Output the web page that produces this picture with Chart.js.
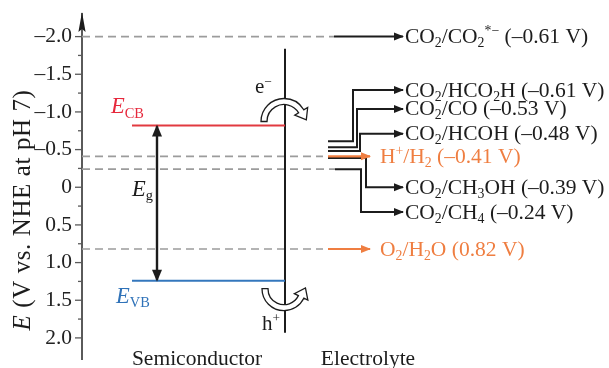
<!DOCTYPE html>
<html>
<head>
<meta charset="utf-8">
<script src="https://cdn.jsdelivr.net/npm/chart.js@4/dist/chart.umd.min.js"></script>
<style>
  html, body { margin: 0; padding: 0; background: #fff; }
  canvas { display: block; }
</style>
</head>
<body>
<canvas id="diagram" width="609" height="368"></canvas>
<script>
// ---- Data -------------------------------------------------------------
// Redox couples on the electrolyte side and their potentials (V vs. NHE, pH 7)
const couples = ['CO2/CO2*−', 'CO2/HCO2H', 'CO2/CO', 'CO2/HCOH', 'H+/H2', 'CO2/CH3OH', 'CO2/CH4', 'O2/H2O'];
const potentials = [-0.61, -0.61, -0.53, -0.48, -0.41, -0.39, -0.24, 0.82];
// Dashed guide levels running across the semiconductor
const guideLevels = [-2.0, -0.41, -0.24, 0.82];
// Semiconductor band edges (V)
const conductionBand = -0.82;
const valenceBand = 1.24;
// Axis ticks
const majorTicks = [-2.0, -1.5, -1.0, -0.5, 0, 0.5, 1.0, 1.5, 2.0];
const minorTicks = [-1.75, -1.25, -0.75, -0.25, 0.25, 0.75, 1.25, 1.75];

// ---- Layout (x in px from the energy axis, rows in V) -----------------
const FAM = '"Liberation Serif", "Times New Roman", Times, serif';
const LAYOUT = {
  bandStart: 50, interfaceX: 203, interfaceTop: -1.84, interfaceBottom: 1.93,
  gapArrowX: 75,
  stubStart: 246, tipX: 321, textX: 323,
  waterTipX: 288, waterTextX: 298,
  guideEnds: [252, 241, 253, 241],
  labelRows: [-2.0, -1.29, -1.04, -0.71, -0.41, 0.0, 0.33, 0.82],
  elbowX: [null, 271, 275, 278, null, 284, 279, null]
};
const COLORS = {
  ink: '#1c1c1c', axis: '#5a5a5a', guide: '#9c9c9c',
  cb: '#e23a40', cbText: '#e6283c', vb: '#3477bd', vbText: '#2f72b8',
  water: '#ef7e41'
};
const waterCouples = ['H+/H2', 'O2/H2O'];

// ---- Datasets ------------------------------------------------------------
const line = (points, color, width, extra = {}) => Object.assign({
  data: points, showLine: true, borderColor: color, backgroundColor: color,
  borderWidth: width, pointRadius: 0, pointHoverRadius: 0, tension: 0,
  fill: false, borderJoinStyle: 'miter', order: 1
}, extra);

const datasets = [];

// dashed guides
guideLevels.forEach((lvl, j) => {
  datasets.push(line([{ x: 0, y: lvl }, { x: LAYOUT.guideEnds[j], y: lvl }],
    COLORS.guide, 1.6, { borderDash: [8, 5], order: 5 }));
});

// band edges
datasets.push(line([{ x: LAYOUT.bandStart, y: conductionBand }, { x: LAYOUT.interfaceX, y: conductionBand }], COLORS.cb, 2));
datasets.push(line([{ x: LAYOUT.bandStart, y: valenceBand }, { x: LAYOUT.interfaceX, y: valenceBand }], COLORS.vb, 2));

// semiconductor / electrolyte interface
datasets.push(line([{ x: LAYOUT.interfaceX, y: LAYOUT.interfaceTop }, { x: LAYOUT.interfaceX, y: LAYOUT.interfaceBottom }], COLORS.ink, 2));

// band-gap double arrow
datasets.push(line([{ x: LAYOUT.gapArrowX, y: conductionBand }, { x: LAYOUT.gapArrowX, y: valenceBand }],
  COLORS.ink, 2.4, { arrow: 'both', head: [11, 5] }));

// couple arrows
couples.forEach((c, i) => {
  const pot = potentials[i];
  const row = LAYOUT.labelRows[i];
  if (i === 0) {
    datasets.push(line([{ x: LAYOUT.guideEnds[0], y: row }, { x: LAYOUT.tipX, y: row }],
      COLORS.ink, 2, { arrow: 'end', head: [9, 4] }));
  } else if (waterCouples.includes(c)) {
    datasets.push(line([{ x: LAYOUT.stubStart, y: pot }, { x: LAYOUT.waterTipX, y: pot }],
      COLORS.water, 2.2, { arrow: 'end', head: [9, 4] }));
  } else {
    const start = (pot === guideLevels[2]) ? LAYOUT.guideEnds[2] : LAYOUT.stubStart;
    const ex = LAYOUT.elbowX[i];
    datasets.push(line([
      { x: start, y: pot }, { x: ex, y: pot }, { x: ex, y: row }, { x: LAYOUT.tipX, y: row }
    ], COLORS.ink, 2, { arrow: 'end', head: [9, 4] }));
  }
});

// ---- Text helpers --------------------------------------------------------
function fontFor(kind, size) {
  if (kind === 'i') return `italic ${size}px ${FAM}`;
  if (kind === 'sub' || kind === 'sup') return `${(size * 0.64).toFixed(1)}px ${FAM}`;
  return `${size}px ${FAM}`;
}
function partsWidth(ctx, parts, size) {
  let w = 0;
  parts.forEach(([t, k]) => { ctx.font = fontFor(k, size); w += ctx.measureText(t).width; });
  return w;
}
function drawRich(ctx, parts, x, y, size, color, align = 'left', spacing = 0) {
  ctx.save();
  ctx.fillStyle = color;
  ctx.textBaseline = 'alphabetic';
  ctx.textAlign = 'left';
  if (spacing && 'letterSpacing' in ctx) ctx.letterSpacing = spacing + 'px';
  let cx = align === 'center' ? x - partsWidth(ctx, parts, size) / 2 : x;
  parts.forEach(([t, k]) => {
    ctx.font = fontFor(k, size);
    const dy = k === 'sub' ? size * 0.19 : k === 'sup' ? -size * 0.36 : 0;
    ctx.fillText(t, cx, y + dy);
    cx += ctx.measureText(t).width;
  });
  ctx.restore();
}
// "CO2/CH3OH" -> normal text with subscript digits and superscript charges
function formulaParts(s) {
  const parts = [];
  for (const ch of s) {
    const kind = /[0-9]/.test(ch) ? 'sub' : /[+*−]/.test(ch) ? 'sup' : '';
    if (parts.length && parts[parts.length - 1][1] === kind) parts[parts.length - 1][0] += ch;
    else parts.push([ch, kind]);
  }
  return parts;
}
const fmtV = v => (v < 0 ? '–' : '') + Math.abs(v).toFixed(2);
const fmtTick = v => Math.abs(v) < 1e-9 ? '0' : (v < 0 ? '–' : '') + Math.abs(v).toFixed(1);

function drawHead(ctx, tip, from, len, half, color) {
  const dx = tip.x - from.x, dy = tip.y - from.y;
  const d = Math.hypot(dx, dy) || 1;
  const ux = dx / d, uy = dy / d;
  ctx.save();
  ctx.fillStyle = color;
  ctx.beginPath();
  ctx.moveTo(tip.x + ux * 1, tip.y + uy * 1);
  ctx.lineTo(tip.x - ux * len - uy * half, tip.y - uy * len + ux * half);
  ctx.lineTo(tip.x - ux * len + uy * half, tip.y - uy * len - ux * half);
  ctx.closePath();
  ctx.fill();
  ctx.restore();
}

// hollow curved arrow (band of given thickness ending in an open arrowhead)
function curvedArrow(ctx, cx, cy, r, half, a0, a1, ccw) {
  const P = (rad, a) => ({ x: cx + rad * Math.cos(a), y: cy + rad * Math.sin(a) });
  const tan = ccw ? { x: Math.sin(a1), y: -Math.cos(a1) } : { x: -Math.sin(a1), y: Math.cos(a1) };
  const base = P(r, a1);
  const tip = { x: base.x + tan.x * 10, y: base.y + tan.y * 10 };
  const wOut = P(r + half + 4.5, a1), wIn = P(r - half - 4.5, a1);
  const i1 = P(r - half, a1);
  ctx.save();
  ctx.beginPath();
  ctx.arc(cx, cy, r + half, a0, a1, ccw);
  ctx.lineTo(wOut.x, wOut.y);
  ctx.lineTo(tip.x, tip.y);
  ctx.lineTo(wIn.x, wIn.y);
  ctx.lineTo(i1.x, i1.y);
  ctx.arc(cx, cy, r - half, a1, a0, !ccw);
  ctx.closePath();
  ctx.fillStyle = '#fff';
  ctx.fill();
  ctx.lineWidth = 1.3;
  ctx.strokeStyle = COLORS.ink;
  ctx.lineJoin = 'miter';
  ctx.stroke();
  ctx.restore();
}

// ---- Annotation plugin ---------------------------------------------------
const annotations = {
  id: 'annotations',
  afterDatasetsDraw(chart) {
    const { ctx, scales: { x: xs, y: ys }, chartArea } = chart;
    const X = v => xs.getPixelForValue(v);
    const Y = v => ys.getPixelForValue(v);
    const axisX = chartArea.left;

    // arrowheads on flagged datasets
    chart.data.datasets.forEach((ds, i) => {
      if (!ds.arrow) return;
      const pts = chart.getDatasetMeta(i).data;
      const [len, half] = ds.head;
      const n = pts.length;
      drawHead(ctx, pts[n - 1], pts[n - 2], len, half, ds.borderColor);
      if (ds.arrow === 'both') drawHead(ctx, pts[0], pts[1], len, half, ds.borderColor);
    });

    // axis tick marks (major longer than minor)
    ctx.save();
    ctx.strokeStyle = COLORS.axis;
    ctx.lineWidth = 1.3;
    majorTicks.forEach(v => { ctx.beginPath(); ctx.moveTo(axisX - 7, Y(v)); ctx.lineTo(axisX, Y(v)); ctx.stroke(); });
    minorTicks.forEach(v => { ctx.beginPath(); ctx.moveTo(axisX - 4, Y(v)); ctx.lineTo(axisX, Y(v)); ctx.stroke(); });
    // arrow at the top of the energy axis
    ctx.fillStyle = COLORS.ink;
    ctx.beginPath();
    ctx.moveTo(axisX, chartArea.top - 2);
    ctx.lineTo(axisX - 3.6, chartArea.top + 18);
    ctx.lineTo(axisX, chartArea.top + 15);
    ctx.lineTo(axisX + 3.6, chartArea.top + 18);
    ctx.closePath();
    ctx.fill();
    ctx.restore();

    // axis title
    ctx.save();
    ctx.translate(22, 210);
    ctx.rotate(-Math.PI / 2);
    drawRich(ctx, [['E', 'i'], [' (V vs. NHE at pH 7)', '']], 0, 8, 25, COLORS.ink, 'center', 0.6);
    ctx.restore();

    // band labels
    const yCB = Y(conductionBand), yVB = Y(valenceBand);
    drawRich(ctx, [['E', 'i'], ['CB', 'sub']], 111, yCB - 12, 22.5, COLORS.cbText);
    drawRich(ctx, [['E', 'i'], ['VB', 'sub']], 116, yVB + 22, 22.5, COLORS.vbText);
    drawRich(ctx, [['E', 'i'], ['g', 'sub']], 132, (yCB + yVB) / 2 - 7, 22.5, COLORS.ink);

    // charge-transfer arrows at the interface
    const xI = X(LAYOUT.interfaceX);
    curvedArrow(ctx, xI - 1, yCB - 4, 20, 3, Math.PI, Math.PI * 1.83, false);
    curvedArrow(ctx, xI - 1, yVB + 8, 19, 3, Math.PI, 0.45, true);
    drawRich(ctx, [['e', ''], ['−', 'sup']], 255, yCB - 32, 21, COLORS.ink);
    drawRich(ctx, [['h', ''], ['+', 'sup']], 262, yVB + 49, 21, COLORS.ink);

    // couple labels
    couples.forEach((c, i) => {
      const water = waterCouples.includes(c);
      const parts = formulaParts(c).concat([[` (${fmtV(potentials[i])} V)`, '']]);
      const x = X(water ? LAYOUT.waterTextX : LAYOUT.textX);
      const y = Y(water ? potentials[i] : LAYOUT.labelRows[i]) + 6.5;
      drawRich(ctx, parts, x, y, 21.5, water ? COLORS.water : COLORS.ink);
    });

    // region labels
    drawRich(ctx, [['Semiconductor', '']], 197, 365, 21.5, COLORS.ink, 'center');
    drawRich(ctx, [['Electrolyte', '']], 368, 365, 21.5, COLORS.ink, 'center');
  }
};

// ---- Chart ---------------------------------------------------------------
new Chart(document.getElementById('diagram'), {
  type: 'scatter',
  data: { datasets },
  options: {
    responsive: false,
    animation: false,
    events: [],
    layout: { padding: { top: 14, bottom: 9, left: 0, right: 0 } },
    plugins: { legend: { display: false }, tooltip: { enabled: false } },
    scales: {
      x: { type: 'linear', display: false, min: 0, max: 527 },
      y: {
        type: 'linear', position: 'left', reverse: true, min: -2.3, max: 2.28,
        afterBuildTicks: s => { s.ticks = majorTicks.map(v => ({ value: v })); },
        afterFit: s => { s.width = 82; s.paddingTop = 0; s.paddingBottom = 0; },
        grid: { display: false, drawTicks: false },
        border: { display: true, color: COLORS.axis, width: 2 },
        ticks: {
          autoSkip: false, padding: 10, color: '#222',
          font: { family: FAM, size: 21.5 },
          callback: v => fmtTick(v)
        }
      }
    }
  },
  plugins: [annotations]
});
</script>
</body>
</html>
